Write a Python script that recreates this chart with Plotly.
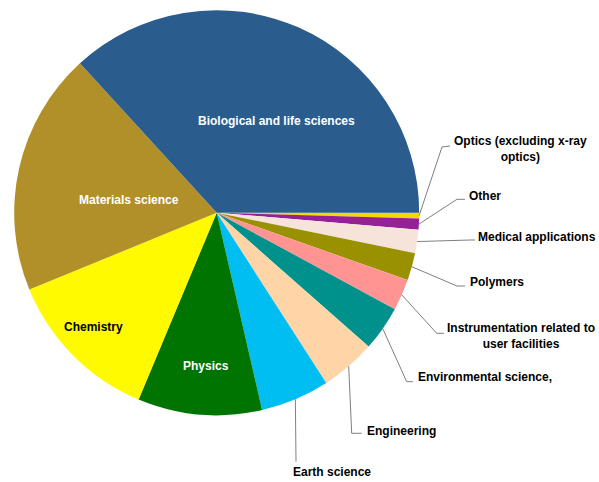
import math
import plotly.graph_objects as go

# ---- data ----
categories = [
    "Biological and life sciences", "Materials science", "Chemistry", "Physics",
    "Earth science", "Engineering", "Environmental science,",
    "Instrumentation related to user facilities", "Polymers",
    "Medical applications", "Other", "Optics (excluding x-ray optics)",
]
shares = [36.8, 19.4, 12.5, 9.9, 5.5, 4.4, 3.6, 2.5, 2.2, 1.85, 0.9, 0.45]
colors = ["#2A5D8D", "#B18F29", "#FFFA00", "#007400", "#00BEF2", "#FFD4A6",
          "#00918D", "#FF9493", "#9A9100", "#F6E4DA", "#962196", "#FFD500"]

# ---- layout (pixels in the 599x482 window) ----
W, H = 599, 482
CX, CY, R = 216.7, 212.7, 202.5


def px(x):
    return x / W


def py(y):
    return 1 - y / H


FONT = "Liberation Sans, Arial, sans-serif"

# inside labels: (pixel centre, colour)
inside_labels = {
    "Biological and life sciences": ((276.5, 120.7), "white"),
    "Materials science": ((129, 200), "white"),
    "Chemistry": ((93.3, 327.3), "black"),
    "Physics": ((206.2, 365.7), "white"),
}
# outside labels: elbow, end of leader, text anchor, xanchor, display text
outside_labels = {
    "Optics (excluding x-ray optics)": ((442, 147), (450, 146), (520, 148.5), "center", "Optics (excluding x-ray<br>optics)"),
    "Other": ((457, 199.3), (465, 199.3), (467, 195.5), "left", "Other"),
    "Medical applications": ((470, 240), (475, 240), (476, 236.7), "left", "Medical applications"),
    "Polymers": ((457, 286), (465, 286), (468, 282), "left", "Polymers"),
    "Instrumentation related to user facilities": ((436.7, 333.3), (444, 333.3), (521, 336), "center", "Instrumentation related to<br>user facilities"),
    "Environmental science,": ((406.7, 381.7), (413, 381.7), (416, 377.3), "left", "Environmental science,"),
    "Engineering": ((351.7, 433.3), (361.7, 433.3), (365, 430.5), "left", "Engineering"),
    "Earth science": ((296, 461.7), (296, 461.7), (290.7, 471.7), "left", "Earth science"),
}

# slices run counterclockwise from 3 o'clock in list order; plotly draws
# clockwise from the rotation point, so feed the lists reversed
fig = go.Figure(go.Pie(
    labels=categories[::-1], values=shares[::-1], sort=False,
    direction="clockwise", rotation=90,
    marker=dict(colors=colors[::-1], line=dict(width=0)),
    textinfo="none", hoverinfo="label+percent", showlegend=False,
    domain=dict(x=[px(CX - R), px(CX + R)], y=[py(CY + R), py(CY - R)]),
))

total = sum(shares)
cum = 0.0
annotations, shapes = [], []
for cat, v in zip(categories, shares):
    a0 = cum / total * 360
    cum += v
    a1 = cum / total * 360
    mid = math.radians((a0 + a1) / 2)
    rx, ry = CX + R * math.cos(mid), CY - R * math.sin(mid)
    if cat in inside_labels:
        (lx, ly), col = inside_labels[cat]
        annotations.append(dict(x=px(lx), y=py(ly), xref="paper", yref="paper",
                                text=cat, showarrow=False, xanchor="center", yanchor="middle",
                                font=dict(family=FONT, size=12, color=col, weight="bold")))
    else:
        (ex, ey), (fx, fy), (tx, ty), xa, txt = outside_labels[cat]
        shapes.append(dict(type="path", xref="paper", yref="paper",
                           path=f"M {px(rx)} {py(ry)} L {px(ex)} {py(ey)} L {px(fx)} {py(fy)}",
                           line=dict(color="#7F7F7F", width=1)))
        annotations.append(dict(x=px(tx), y=py(ty), xref="paper", yref="paper",
                                text=txt, showarrow=False, xanchor=xa, yanchor="middle",
                                align="center",
                                font=dict(family=FONT, size=12, color="black", weight="bold")))

fig.update_layout(width=W, height=H, margin=dict(l=0, r=0, t=0, b=0),
                  paper_bgcolor="white", plot_bgcolor="white",
                  annotations=annotations, shapes=shapes)
fig.write_html("out.html", config={"displayModeBar": False},
               post_script="document.body.style.margin='0px';"
                           "document.body.style.overflow='hidden';")
